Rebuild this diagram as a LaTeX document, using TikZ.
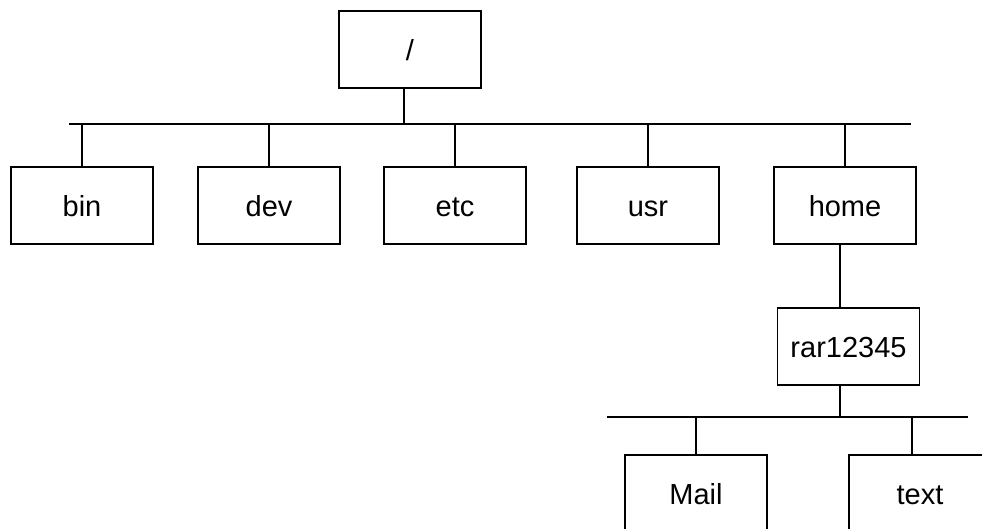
\documentclass[tikz,border=0pt]{standalone}
\usepackage{fontspec}
\setmainfont{Liberation Sans}
\usetikzlibrary{calc}
\usetikzlibrary{positioning}
\tikzset{
	dir/.style={rectangle, draw, line width=1.1pt, minimum width=2.84cm, minimum height=1.54cm,
		text height=12pt, text depth=0pt,
		font=\fontsize{16.5}{20}\selectfont},
	link/.style={draw, line width=1.1pt}
}
\begin{document}
\begin{tikzpicture}[x=0.02cm, y=-0.02cm]

\useasboundingbox (0,0) rectangle (982,528);
\clip (0,0) rectangle (982,528);

\node[dir] (root) at (410,49.5) {/};

\coordinate (busa) at (69,124);
\coordinate (busb) at (911,124);

\node[dir] (bin) at (82,205.5) {bin};
\node[dir] (dev) at (269,205.5) {dev};
\node[dir] (etc) at (455,205.5) {etc};
\node[dir] (usr) at (648,205.5) {usr};
\node[dir] (home) at (845,205.5) {home};

\node[dir] (rar) at (848.5,346.5) {rar12345};

\coordinate (busc) at (607,417);
\coordinate (busd) at (968,417);

\node[dir] (mail) at (696,493.5) {Mail};
\node[dir] (text) at (920,493.5) {text};


\draw [link] (busa) -- (busb);
\draw [link] ([xshift=-0.12cm]root.south) -- ([xshift=-0.12cm]root.south |- busa);

\draw [link] (bin.north) -- (bin.north |- busa);
\draw [link] (dev.north) -- (dev.north |- busa);
\draw [link] (etc.north) -- (etc.north |- busa);
\draw [link] (usr.north) -- (usr.north |- busa);
\draw [link] (home.north) -- (home.north |- busa);

\draw [link] ([xshift=-0.1cm]home.south) -- ([xshift=-0.1cm]home.south |- rar.north);

\draw [link] (busc) -- (busd);
\draw [link] ([xshift=-0.17cm]rar.south) -- ([xshift=-0.17cm]rar.south |- busc);

\draw [link] (mail.north) -- (mail.north |- busc);
\draw [link] ([xshift=-0.16cm]text.north) -- ([xshift=-0.16cm]text.north |- busc);

\end{tikzpicture}
\end{document}
